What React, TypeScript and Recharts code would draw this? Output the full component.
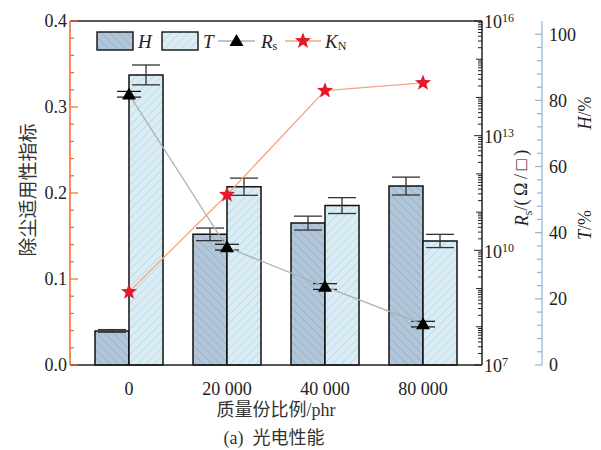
import React from "react";
import { ComposedChart, Bar, Line, XAxis, YAxis, ErrorBar, ReferenceLine } from "recharts";

// values
const categories = ["0", "20 000", "40 000", "80 000"];
const hazeH = [10.3, 39.5, 42.9, 54.1];
const hazeErr = [0.4, 1.9, 2.1, 2.7];
const transT = [87.7, 53.9, 48.2, 37.5];
const transErr = [3.0, 2.6, 2.4, 2.0];
const sheetRs = [1.2e14, 1.2e10, 1.12e9, 1.16e8];
const rsErrLow = [1.8e13, 1.8e9, 1.7e8, 1.7e7];
const rsErrHigh = [2.4e13, 2.4e9, 2.2e8, 2.3e7];
const kN = [0.085, 0.198, 0.319, 0.328];

const leftTicks = [0, 0.02, 0.04, 0.06, 0.08, 0.1, 0.12, 0.14, 0.16, 0.18, 0.2, 0.22, 0.24, 0.26, 0.28, 0.3, 0.32, 0.34, 0.36, 0.38, 0.4];
const pctTicks = [0, 4, 8, 12, 16, 20, 24, 28, 32, 36, 40, 44, 48, 52, 56, 60, 64, 68, 72, 76, 80, 84, 88, 92, 96, 100, 104];
const logTicks: number[] = [];
for (let d = 7; d < 16; d++) for (let m = 1; m < 10; m++) logTicks.push(m * Math.pow(10, d));
logTicks.push(1e16);

const data = categories.map((c, i) => ({
  x: c,
  H: hazeH[i],
  Herr: hazeErr[i],
  T: transT[i],
  Terr: transErr[i],
  Rs: sheetRs[i],
  RsErr: [rsErrLow[i], rsErrHigh[i]],
  K: kN[i],
}));

const SERIF = "'Liberation Serif', 'Times New Roman', 'Noto Sans CJK SC', serif";
const ORANGE = "#f0692a";
const BLUE_AXIS = "#8fb3dc";
const RS_LINE = "#a7b2ba";
const K_LINE = "#f6a47e";
const STAR = "#e8182c";

function starPoints(cx: number, cy: number, R: number) {
  const r = R * 0.42;
  const pts: string[] = [];
  for (let i = 0; i < 10; i++) {
    const a = -Math.PI / 2 + (i * Math.PI) / 5;
    const rr = i % 2 === 0 ? R : r;
    pts.push(`${cx + rr * Math.cos(a)},${cy + rr * Math.sin(a)}`);
  }
  return pts.join(" ");
}

const TriangleDot = (props: any) => {
  const { cx, cy, index } = props;
  return <polygon key={`tri-${index}`} points={`${cx},${cy - 7} ${cx - 7},${cy + 5} ${cx + 7},${cy + 5}`} fill="#000" />;
};

const StarDot = (props: any) => {
  const { cx, cy, index } = props;
  return <polygon key={`star-${index}`} points={starPoints(cx, cy, 8.5)} fill={STAR} />;
};

const LeftTick = (props: any) => {
  const { x, y, payload } = props;
  const v = payload.value;
  const major = Math.abs(v * 10 - Math.round(v * 10)) < 1e-6;
  return (
    <g>
      <line x1={x} x2={x + (major ? 8 : 4)} y1={y} y2={y} stroke={ORANGE} strokeWidth={1.2} />
      {major && (
        <text x={x - 3} y={y} dy="0.35em" textAnchor="end" fontSize={18} fill="#222" fontFamily={SERIF}>
          {v.toFixed(1)}
        </text>
      )}
    </g>
  );
};

const LogTick = (props: any) => {
  const { x, y, payload } = props;
  const v = payload.value;
  const lg = Math.log10(v);
  const decade = Math.abs(lg - Math.round(lg)) < 1e-9;
  const exp = Math.round(lg);
  const labelled = decade && (exp - 7) % 3 === 0;
  const len = labelled ? 8 : decade ? 6 : 4;
  return (
    <g>
      <line x1={x} x2={x - len} y1={y} y2={y} stroke="#222" strokeWidth={1} />
      {labelled && (
        <text x={x + 2} y={y} dy="0.4em" fontSize={18} fill="#222" fontFamily={SERIF}>
          10
          <tspan dy="-0.5em" fontSize={12}>
            {exp}
          </tspan>
        </text>
      )}
    </g>
  );
};

const PctTick = (props: any) => {
  const { x, y, payload } = props;
  const v = payload.value;
  if (v > 100) return <g />;
  const major = v % 20 === 0;
  return (
    <g>
      <line x1={x} x2={x - (major ? 7 : 5)} y1={y} y2={y} stroke={BLUE_AXIS} strokeWidth={1.2} />
      {major && (
        <text x={x + 7} y={y} dy="0.35em" fontSize={18} fill="#222" fontFamily={SERIF}>
          {v}
        </text>
      )}
    </g>
  );
};

const XTick = (props: any) => {
  const { x, y, payload } = props;
  return (
    <text x={x} y={y + 22} textAnchor="middle" fontSize={18} fill="#222" fontFamily={SERIF}>
      {payload.value}
    </text>
  );
};

const Patterns = ({ prefix }: { prefix: string }) => (
  <defs>
    <pattern id={`${prefix}H`} patternUnits="userSpaceOnUse" width={6} height={6} patternTransform="rotate(-45)">
      <rect width={6} height={6} fill="#b2c6da" />
      <line x1={0} y1={0} x2={0} y2={6} stroke="#8aa0b8" strokeWidth={1} />
    </pattern>
    <pattern id={`${prefix}T`} patternUnits="userSpaceOnUse" width={6} height={6} patternTransform="rotate(45)">
      <rect width={6} height={6} fill="#dbedf4" />
      <line x1={0} y1={0} x2={0} y2={6} stroke="#a6cbe0" strokeWidth={1} />
    </pattern>
  </defs>
);

const Overlay = () => (
  <svg width={601} height={450} style={{ position: "absolute", left: 0, top: 0, pointerEvents: "none" }} fontFamily={SERIF}>
    <Patterns prefix="lg" />
    {/* axis titles */}
    <text transform="translate(28,190) rotate(-90)" textAnchor="middle" dy="0.35em" fontSize={19} fill="#333">
      除尘适用性指标
    </text>
    <text x={276} y={416} textAnchor="middle" fontSize={18} fill="#333">
      质量份比例/phr
    </text>
    <text x={274} y={444} textAnchor="middle" fontSize={18} fill="#333">
      {"(a)\u00a0\u00a0光电性能"}
    </text>
    <text transform="translate(522,188) rotate(-90)" textAnchor="middle" dy="0.35em" fontSize={18} fill="#222">
      <tspan fontStyle="italic">R</tspan>
      <tspan fontSize={12} dy="0.3em">s</tspan>
      <tspan dy="-0.3em">{"/(\u2009Ω\u2009/\u2009□\u2009)"}</tspan>
    </text>
    <text transform="translate(585,113) rotate(-90)" textAnchor="middle" dy="0.35em" fontSize={18} fill="#222">
      <tspan fontStyle="italic">H</tspan>/%
    </text>
    <text transform="translate(585,225) rotate(-90)" textAnchor="middle" dy="0.35em" fontSize={18} fill="#222">
      <tspan fontStyle="italic">T</tspan>/%
    </text>

    {/* legend */}
    <rect x={97} y={32} width={36} height={18} fill="url(#lgH)" stroke="#111" strokeWidth={1.4} />
    <text x={138} y={48} fontSize={19} fontStyle="italic" fill="#222">H</text>
    <rect x={162} y={32} width={36} height={18} fill="url(#lgT)" stroke="#111" strokeWidth={1.4} />
    <text x={203} y={48} fontSize={19} fontStyle="italic" fill="#222">T</text>
    <line x1={218} x2={255} y1={41} y2={41} stroke={RS_LINE} strokeWidth={1.3} />
    <polygon points="236.5,34 229.5,46 243.5,46" fill="#000" />
    <text x={261} y={48} fontSize={19} fill="#222">
      <tspan fontStyle="italic">R</tspan>
      <tspan fontSize={12} dy="2">s</tspan>
    </text>
    <line x1={285} x2={321} y1={41} y2={41} stroke={K_LINE} strokeWidth={1.3} />
    <polygon points={starPoints(303, 41, 8.5)} fill={STAR} />
    <text x={325} y={48} fontSize={19} fill="#222">
      <tspan fontStyle="italic">K</tspan>
      <tspan fontSize={12} dy="2">N</tspan>
    </text>
  </svg>
);

export default function App() {
  return (
    <div style={{ position: "absolute", left: 0, top: 0, width: 601, height: 450, background: "#fff" }}>
      <ComposedChart width={601} height={450} data={data} margin={{ top: 21, right: 0, bottom: 0, left: 0 }} barGap={0}>
        <Patterns prefix="bar" />
        <XAxis
          dataKey="x"
          height={85}
          padding={{ left: 10, right: 10 }}
          axisLine={{ stroke: "#222", strokeWidth: 1.5 }}
          tickLine={false}
          tick={<XTick />}
          interval={0}
        />
        <YAxis
          yAxisId="left"
          orientation="left"
          width={70}
          domain={[0, 0.4]}
          ticks={leftTicks}
          interval={0}
          axisLine={{ stroke: ORANGE, strokeWidth: 1.5 }}
          tickLine={false}
          tickSize={0}
          tickMargin={0}
          tick={<LeftTick />}
        />
        {/* inner right axis, log scale for Rs */}
        <YAxis
          yAxisId="r1"
          orientation="right"
          width={60}
          scale="log"
          domain={[1e7, 1e16]}
          allowDataOverflow
          ticks={logTicks}
          interval={0}
          axisLine={{ stroke: "#222", strokeWidth: 1.5 }}
          tickLine={false}
          tickSize={0}
          tickMargin={0}
          tick={<LogTick />}
        />
        {/* outer right axis (H, T in %) */}
        <YAxis
          yAxisId="r2"
          orientation="right"
          width={59}
          domain={[0, 104]}
          ticks={pctTicks}
          interval={0}
          axisLine={{ stroke: BLUE_AXIS, strokeWidth: 1.2 }}
          tickLine={false}
          tickSize={0}
          tickMargin={0}
          tick={<PctTick />}
        />
        <ReferenceLine yAxisId="left" y={0.4} stroke="#222" strokeWidth={1.5} />

        <Bar yAxisId="r2" dataKey="H" barSize={34} fill="url(#barH)" stroke="#111" strokeWidth={1.5} isAnimationActive={false}>
          <ErrorBar dataKey="Herr" width={14} stroke="#333" strokeWidth={1.3} direction="y" />
        </Bar>
        <Bar yAxisId="r2" dataKey="T" barSize={34} fill="url(#barT)" stroke="#111" strokeWidth={1.5} isAnimationActive={false}>
          <ErrorBar dataKey="Terr" width={14} stroke="#333" strokeWidth={1.3} direction="y" />
        </Bar>

        <Line yAxisId="r1" dataKey="Rs" stroke={RS_LINE} strokeWidth={1.3} dot={TriangleDot} activeDot={false} isAnimationActive={false}>
          <ErrorBar dataKey="RsErr" width={12} stroke="#111" strokeWidth={1.2} direction="y" />
        </Line>
        <Line yAxisId="left" dataKey="K" stroke={K_LINE} strokeWidth={1.3} dot={StarDot} activeDot={false} isAnimationActive={false} />
      </ComposedChart>
      <Overlay />
    </div>
  );
}
